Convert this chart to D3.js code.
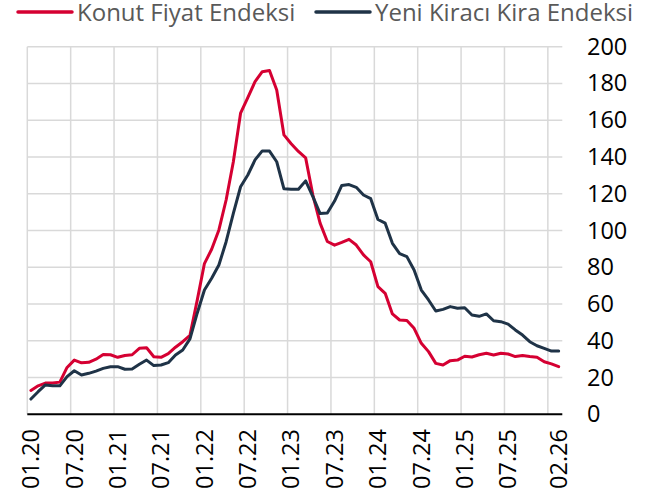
<!DOCTYPE html>
<meta charset="utf-8">
<style>
  body { margin: 0; background: #fff; }
  svg { font-family: "Open Sans", sans-serif; }
  .grid line { stroke: #d9d9d9; stroke-width: 1.5px; }
  .xlab { font-size: 23.5px; fill: #000; }
  .legend text { font-size: 24px; fill: #595959; }
</style>
<svg width="645" height="498"></svg>
<script src="https://d3js.org/d3.v7.min.js"></script>
<script>

// aylik veri, 01.20 - 02.26 (74 ay)
var konut = [13, 15.5, 17, 17, 17.5, 25.5, 29.5, 28, 28.3, 30, 32.5, 32.4, 31, 32, 32.4, 35.9, 36.2, 31.3, 31, 33,
  36.5, 39.5, 43, 62, 82, 89.8, 100.3, 116.6, 137.4, 163.8, 172.3, 181, 186.4, 187, 176.4, 152, 147.2, 143, 139.5, 119.3,
  104, 94, 92, 93.5, 95.2, 92.1, 86.7, 83, 69.5, 65.8, 54.6, 51.3, 51, 46.8, 38.6, 34.1, 27.7, 26.8, 29.2, 29.5,
  31.6, 31.2, 32.4, 33.2, 32.3, 33.2, 32.8, 31.4, 32, 31.4, 31, 28.6, 27.4, 25.9];

var kira = [8.3, 12.3, 16, 15.5, 15.5, 20.5, 23.7, 21.4, 22.3, 23.5, 25, 25.9, 25.9, 24.5, 24.7, 27.2, 29.5, 26.5, 26.8, 28.1,
  32.3, 35, 41, 55, 67.6, 74, 81.2, 93.9, 109.3, 123.8, 130.2, 138.4, 143.3, 143.2, 137.4, 122.7, 122.4, 122.4, 127, 118.4,
  109.2, 109.5, 116, 124.5, 125, 123.5, 119.3, 117.3, 106, 104, 93, 87.4, 85.8, 78.5, 67.6, 62.2, 56.2, 57.1, 58.6, 57.7,
  58, 54, 53.3, 54.6, 50.9, 50.4, 49.1, 45.9, 43.1, 39.5, 37.3, 35.9, 34.4, 34.4];

var xTickLabels = ["01.20", "07.20", "01.21", "07.21", "01.22", "07.22", "01.23", "07.23", "01.24", "07.24", "01.25", "07.25", "02.26"];
var xTickIdx = [0, 6, 12, 18, 24, 30, 36, 42, 48, 54, 60, 66, 73];
var gridIdx = [0, 6, 12, 18, 24, 30, 36, 42, 48, 54, 60, 66, 72];
var yTicks = [0, 20, 40, 60, 80, 100, 120, 140, 160, 180, 200];

var series = [
  {name: "Konut Fiyat Endeksi", values: konut, color: "#d50032"},
  {name: "Yeni Kiracı Kira Endeksi", values: kira, color: "#1f3347"}
];

var svg = d3.select("svg");

var x = d3.scaleLinear().domain([0, 74]).range([27.3, 562.3]);
var y = d3.scaleLinear().domain([0, 200]).range([414.3, 46.7]);

// grid
var grid = svg.append("g").attr("class", "grid");
grid.selectAll("line.h")
  .data(yTicks.filter(function(d) { return d > 0; }))
  .enter().append("line")
  .attr("x1", x(0)).attr("x2", x(74))
  .attr("y1", function(d) { return y(d); })
  .attr("y2", function(d) { return y(d); });
grid.selectAll("line.v")
  .data(gridIdx)
  .enter().append("line")
  .attr("x1", function(d) { return x(d); })
  .attr("x2", function(d) { return x(d); })
  .attr("y1", y(200)).attr("y2", y(0));

// x ekseni cizgisi
svg.append("line")
  .attr("x1", x(0)).attr("x2", x(74))
  .attr("y1", y(0)).attr("y2", y(0))
  .attr("stroke", "#000").attr("stroke-width", 2);

// y ekseni sagda
var yAxis = svg.append("g")
  .attr("class", "yaxis")
  .attr("transform", "translate(587,0)")
  .call(d3.axisRight(y).tickValues(yTicks).tickSize(0).tickPadding(0));
yAxis.select(".domain").remove();
yAxis.selectAll("text")
  .style("font-family", "'Open Sans', sans-serif")
  .style("font-size", "23.5px")
  .attr("fill", "#000");

// x etiketleri
svg.append("g").selectAll("text")
  .data(xTickIdx)
  .enter().append("text")
  .attr("class", "xlab")
  .attr("transform", function(d) { return "translate(" + x(d + 0.5) + ",429) rotate(-90)"; })
  .attr("text-anchor", "end")
  .attr("dy", "0.35em")
  .text(function(d, i) { return xTickLabels[i]; });

// cizgiler
var line = d3.line()
  .x(function(d, i) { return x(i + 0.5); })
  .y(function(d) { return y(d); });

svg.append("g").selectAll("path")
  .data(series)
  .enter().append("path")
  .attr("fill", "none")
  .attr("stroke", function(d) { return d.color; })
  .attr("stroke-width", 3)
  .attr("stroke-linejoin", "round")
  .attr("stroke-linecap", "round")
  .attr("d", function(d) { return line(d.values); });

// legend
var legend = svg.append("g").attr("class", "legend");
var legX = [18, 316];
series.forEach(function(s, i) {
  legend.append("line")
    .attr("x1", legX[i]).attr("x2", legX[i] + 54)
    .attr("y1", 12).attr("y2", 12)
    .attr("stroke", s.color).attr("stroke-width", 3.5)
    .attr("stroke-linecap", "round");
  legend.append("text")
    .attr("x", legX[i] + 59).attr("y", 21)
    .text(s.name);
});

</script>
